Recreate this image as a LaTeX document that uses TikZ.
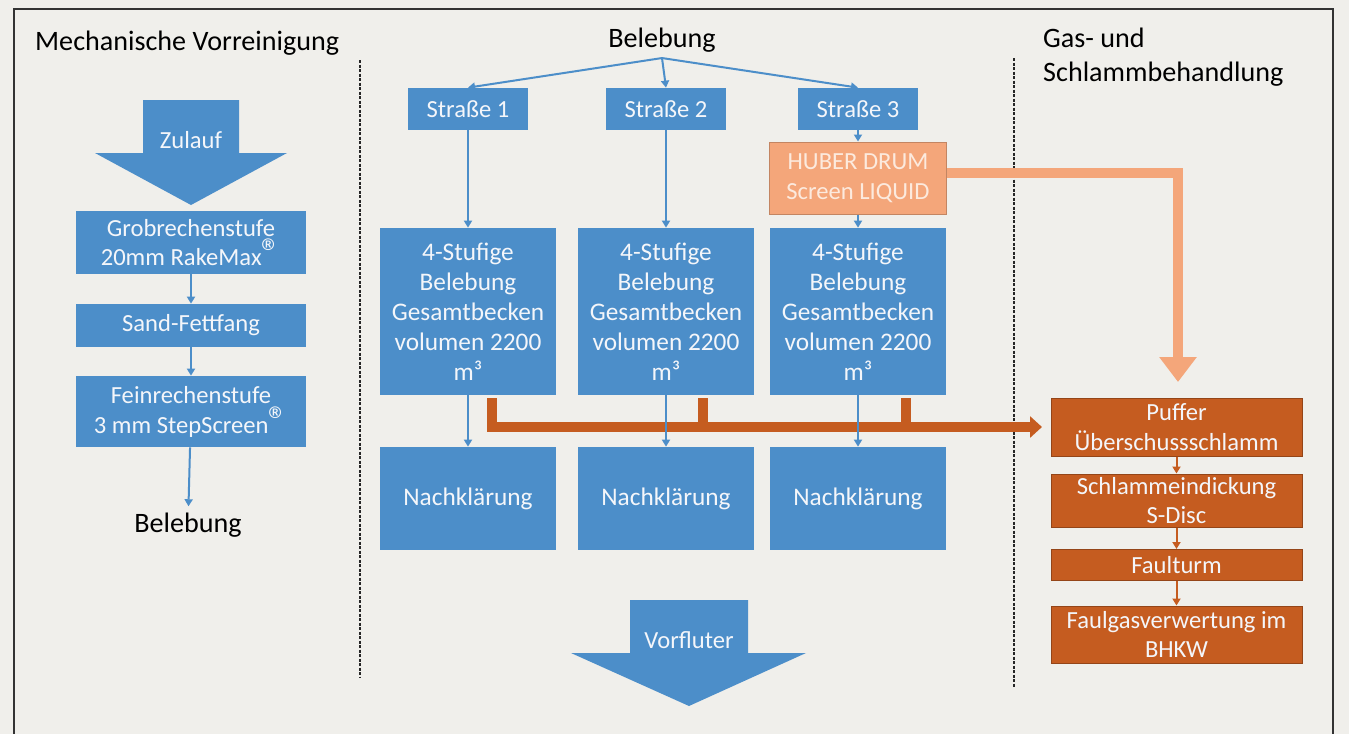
\documentclass[tikz,border=0pt]{standalone}
\usepackage{fontspec}
\setmainfont{Carlito}
\usetikzlibrary{arrows.meta}
\definecolor{wwblue}{RGB}{76,142,201}
\definecolor{sludge}{RGB}{197,92,32}
\definecolor{screen}{RGB}{244,166,122}
\definecolor{screentext}{RGB}{252,234,222}
\definecolor{paper}{RGB}{240,239,235}
\definecolor{boxtext}{RGB}{244,246,250}
\newcommand{\regmark}{{\fontsize{22}{17}\selectfont ®}}
\tikzset{
  box/.style={fill=wwblue,text=boxtext,align=center,inner sep=0pt,
    font=\fontsize{14}{17}\selectfont},
  prebox/.style={box,minimum width=46mm},
  lane/.style={box,minimum width=24mm,minimum height=8.4mm},
  tank/.style={box,minimum width=35.2mm,minimum height=33.4mm,
    font=\fontsize{14.4}{17}\selectfont},
  sbox/.style={box,fill=sludge,draw=sludge!75!black,line width=0.2mm,
    minimum width=50.2mm},
  title/.style={font=\fontsize{16}{19}\selectfont,text=black,align=left},
  flow/.style={wwblue,line width=0.4mm,-{Triangle[width=1.6mm,length=1.4mm]}},
  sflow/.style={flow,sludge},
  sludgebar/.style={draw=sludge,line width=2mm},
  divider/.style={line width=0.35mm,black!85,dash pattern=on 0.6mm off 0.3mm},
}
\begin{document}
\begin{tikzpicture}[x=0.2mm,y=-0.2mm]
	\useasboundingbox[fill=paper] (0,0) rectangle (1349,734);
	\draw[line width=0.4mm,black!80] (14,734)--(14,9)--(1333,9)--(1333,734);
	% titles
	\node[title,anchor=base west] (mech) at (29,50) {Mechanische Vorreinigung};
	\node[title,anchor=base] (top) at (662,47) {Belebung};
	\node[title,anchor=north west] (gas) at (1037,22) {Gas- und\\Schlammbehandlung};
	\draw[divider] (360,60)--(360,678);
	\draw[divider] (1014,58)--(1014,688);
	% mechanische Vorreinigung
	\fill[wwblue] (143,100)--(239,100)--(239,153)--(287,153)--(191,205)--(95,153)--(143,153)--cycle;
	\node[box,fill=none] (zulauf) at (191,140) {Zulauf};
	\node[prebox,minimum height=12.6mm] (grob) at (191,242.5) {Grobrechenstufe\\20mm RakeMax\regmark};
	\node[prebox,minimum height=8.6mm] (sand) at (191,325.5) {Sand-Fettfang};
	\node[prebox,minimum height=14.2mm] (fein) at (191,411.5) {Feinrechenstufe\\3 mm StepScreen\regmark};
	\node[title,anchor=base] (belebL) at (188,532) {Belebung};
	\draw[flow] (grob)--(sand);
	\draw[flow] (sand)--(fein);
	\draw[flow] (fein)--(belebL);
	% Belebung
	\foreach \i/\x in {1/468,2/666,3/858}{
	\node[lane] (s\i) at (\x,109) {Straße \i};
	\node[tank] (b\i) at (\x,311.5) {4-Stufige\\Belebung\\Gesamtbecken\\volumen 2200\\m³};
	\node[tank,minimum height=20.6mm] (n\i) at (\x,498.5) {Nachklärung};
	}
	\node[box,fill=screen,draw=screen!80!black,line width=0.2mm,text=screentext,
	  minimum width=35.4mm,minimum height=14.4mm] (huber) at (858,178) {HUBER DRUM\\Screen LIQUID};
	\foreach \i in {1,2,3}{
	\draw[flow] (top.south)--(s\i.north);
	}
	\draw[flow] (s1)--(b1);
	\draw[flow] (s2)--(b2);
	\draw[flow] (s3)--(huber);
	\draw[flow] (huber)--(b3);
	% Schlamm
	\node[sbox,minimum height=11.6mm] (puffer) at (1176.5,427) {Puffer\\Überschussschlamm};
	\node[sbox,minimum height=10.6mm] (eindick) at (1176.5,500.5) {Schlammeindickung\\S-Disc};
	\node[sbox,minimum height=6.2mm] (faul) at (1176.5,565) {Faulturm};
	\node[sbox,minimum height=11.4mm] (bhkw) at (1176.5,634.5) {Faulgasverwertung im\\BHKW};
	\draw[sflow] (puffer)--(eindick);
	\draw[sflow] (eindick)--(faul);
	\draw[sflow] (faul)--(bhkw);
	\path (492,398) coordinate (o1)
	(703,398) coordinate (o2)
	(906,398) coordinate (o3)
	(1178,382) coordinate (drop);
	\draw[sludgebar] (o2)--(o2|-puffer);
	\draw[sludgebar] (o3)--(o3|-puffer);
	\draw[sludgebar,shorten >=1.7mm,-{Triangle[width=4.2mm,length=2.4mm]}] (o1)|-(puffer);
	\draw[screen,line width=2mm,-{Triangle[width=7.2mm,length=5mm]}] ([yshift=1mm]huber.east)-|(drop);
	\foreach \i in {1,2,3}{
	\draw[flow] (b\i)--(n\i);
	}
	% Vorfluter
	\fill[wwblue] (630,600)--(748,600)--(748,653)--(806,653)--(689,706)--(571,653)--(630,653)--cycle;
	\node[box,fill=none] (vorfluter) at (689,640) {Vorfluter};
\end{tikzpicture}
\end{document}
